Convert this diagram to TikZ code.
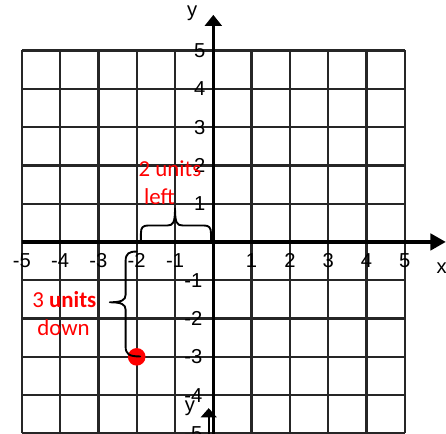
\documentclass[tikz,border=0pt]{standalone}
\usepackage{fontspec}
\setmainfont{Liberation Sans}
\newfontfamily\carlitofont{Carlito}
\usetikzlibrary{arrows.meta}
\begin{document}
\begin{tikzpicture}[
  gridline/.style={black!85, line width=1.7pt},
  axisline/.style={black, line width=2.3pt},
  numlab/.style={font=\fontsize{15}{18}\selectfont, inner sep=0pt},
  axlab/.style={font=\fontsize{15}{18}\selectfont, inner sep=0pt, anchor=base},
  redlab/.style={text=red, font=\carlitofont\fontsize{17}{20}\selectfont, inner sep=0pt, anchor=base},
  bracel/.style={black, line width=1.4pt, line join=round, line cap=round},
]
\useasboundingbox (-5.57,-5.013) rectangle (6.076,6.318);
% grid
\foreach \i in {-5,...,5} {
  \draw[gridline] (\i,-5) -- (\i,5);
  \draw[gridline] (-5,\i) -- (5,\i);
}
% axes
\coordinate (xs) at (-5,0);
\coordinate (xe) at (6.07,0);
\coordinate (ys) at (0,-5.3);
\coordinate (ye) at (0,5.93);
\draw[axisline, -{Triangle[length=0.4cm,width=0.43cm]}] (xs) -- (xe);
\draw[axisline, -{Triangle[length=0.29cm,width=0.44cm]}] (ys) -- (ye);
% stray second arrow at bottom
\coordinate (bs) at (-0.12,-5.3);
\coordinate (be) at (-0.12,-4.34);
\draw[black, line width=1.5pt, -{Triangle[length=0.24cm,width=0.41cm]}] (bs) -- (be);
% axis labels
\node[axlab] (ylab) at (-0.55,5.89) {y};
\node[axlab] (xlab) at (5.96,-0.835) {x};
\node[axlab] (ylabb) at (-0.61,-4.44) {y};
% x numbers
\foreach \i [count=\k] in {-5,-4,-3,-2,-1,1,2,3,4,5}
  \node[numlab] (xn\k) at (\i,-0.49) {\i};
% y numbers
\foreach \i [count=\k] in {1,2,3,4,5}
  \node[numlab, anchor=east] (yp\k) at (-0.2,\i) {\i};
\foreach \i [count=\k] in {-1,-2,-3,-4,-5}
  \node[numlab, anchor=east] (yn\k) at (-0.28,\i) {\i};
% point
\node[circle, fill=red, minimum size=0.46cm, inner sep=0pt] (pt) at (-2,-3) {};
% horizontal brace
\draw[bracel] (-1.89,0.05) -- (-1.89,0.22)
  .. controls (-1.89,0.38) and (-1.84,0.43) .. (-1.7,0.43) -- (-1.2,0.43)
  .. controls (-1.05,0.43) and (-1.0,0.5) .. (-1.0,0.88)
  .. controls (-1.0,0.5) and (-0.95,0.43) .. (-0.8,0.43) -- (-0.25,0.43)
  .. controls (-0.11,0.43) and (-0.06,0.38) .. (-0.06,0.22) -- (-0.06,0.05);
% vertical brace
\draw[bracel] (-2.0,-0.25)
  .. controls (-2.2,-0.25) and (-2.29,-0.3) .. (-2.29,-0.5) -- (-2.29,-1.38)
  .. controls (-2.29,-1.52) and (-2.4,-1.575) .. (-2.70,-1.575)
  .. controls (-2.4,-1.575) and (-2.29,-1.63) .. (-2.29,-1.77) -- (-2.29,-2.73)
  .. controls (-2.29,-2.93) and (-2.2,-2.99) .. (-1.91,-2.99);
% red labels
\node[redlab] (t1) at (-1.13,1.72) {2 units};
\node[redlab] (t2) at (-1.41,0.99) {left};
\node[redlab] (t3) at (-3.89,-1.705) {3 \textbf{units}};
\node[redlab] (t4) at (-3.91,-2.45) {down};
\end{tikzpicture}
\end{document}
